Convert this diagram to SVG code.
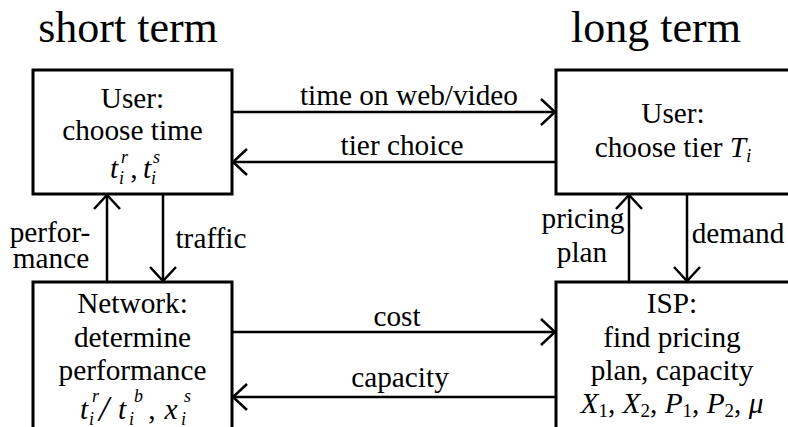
<svg xmlns="http://www.w3.org/2000/svg" width="788" height="427" viewBox="0 0 788 427" font-family="Liberation Serif, serif">
<style>
.box{fill:#fff;stroke:#000;stroke-width:3}
.c{stroke:#000;stroke-width:2.5;fill:none}
</style>
<defs>
<marker id="ah" viewBox="0 0 16 28" refX="15" refY="14" markerWidth="16" markerHeight="28" markerUnits="userSpaceOnUse" orient="auto">
<path d="M1,1 L15,14 L1,27" fill="none" stroke="#000" stroke-width="2.5"/>
</marker>
</defs>
<rect width="788" height="427" fill="#fff"/>
<text font-family="Liberation Serif, serif" font-size="44" text-anchor="middle" x="128" y="42">short term</text>
<text font-family="Liberation Serif, serif" font-size="44" text-anchor="middle" x="656" y="42">long term</text>
<g id="connectors" font-family="Liberation Serif, serif" font-size="29.3" text-anchor="middle">
<line class="c" x1="232" y1="112" x2="555" y2="112" marker-end="url(#ah)"/>
<line class="c" x1="556" y1="162" x2="233" y2="162" marker-end="url(#ah)"/>
<line class="c" x1="232" y1="332" x2="555" y2="332" marker-end="url(#ah)"/>
<line class="c" x1="556" y1="397" x2="233" y2="397" marker-end="url(#ah)"/>
<line class="c" x1="107" y1="282" x2="107" y2="195" marker-end="url(#ah)"/>
<line class="c" x1="163" y1="194" x2="163" y2="281" marker-end="url(#ah)"/>
<line class="c" x1="629" y1="282" x2="629" y2="195" marker-end="url(#ah)"/>
<line class="c" x1="687" y1="194" x2="687" y2="281" marker-end="url(#ah)"/>
<text x="409" y="105">time on web/video</text>
<text x="402" y="155">tier choice</text>
<text x="397" y="326">cost</text>
<text x="400" y="387">capacity</text>
<text x="50" y="242">perfor-</text>
<text x="51" y="268">mance</text>
<text x="211" y="248">traffic</text>
<text x="583" y="228">pricing</text>
<text x="582" y="262">plan</text>
<text x="738" y="243">demand</text>
</g>
<g id="user-short" font-family="Liberation Serif, serif" font-size="29.3">
<rect class="box" x="33" y="70" width="199" height="124"/>
<text text-anchor="middle" x="132.5" y="108">User:</text>
<text text-anchor="middle" x="132.5" y="140">choose time</text>
<text font-style="italic" text-anchor="middle" x="114" y="178">t</text>
<text font-style="italic" font-size="18" x="121" y="163">r</text>
<text font-style="italic" font-size="18" x="119" y="184">i</text>
<text text-anchor="middle" x="134" y="178">,</text>
<text font-style="italic" text-anchor="middle" x="147" y="178">t</text>
<text font-style="italic" font-size="18" x="153" y="163">s</text>
<text font-style="italic" font-size="18" x="151" y="184">i</text>
</g>
<g id="network" font-family="Liberation Serif, serif" font-size="29.3">
<rect class="box" x="33" y="282" width="199" height="160"/>
<text text-anchor="middle" x="132.5" y="313">Network:</text>
<text text-anchor="middle" x="132.5" y="347">determine</text>
<text text-anchor="middle" x="132.5" y="380">performance</text>
<text font-style="italic" text-anchor="middle" x="84" y="419">t</text>
<text font-style="italic" font-size="18" x="92" y="402">r</text>
<text font-style="italic" font-size="18" x="89" y="425">i</text>
<text font-style="italic" font-size="36" x="99" y="421">/</text>
<text font-style="italic" text-anchor="middle" x="122" y="419">t</text>
<text font-style="italic" font-size="18" x="134" y="402">b</text>
<text font-style="italic" font-size="18" x="129" y="425">i</text>
<text text-anchor="middle" x="152" y="419">,</text>
<text font-style="italic" text-anchor="middle" x="171" y="419">x</text>
<text font-style="italic" font-size="18" x="184" y="402">s</text>
<text font-style="italic" font-size="18" x="181" y="425">i</text>
</g>
<g id="user-long" font-family="Liberation Serif, serif" font-size="29.3">
<rect class="box" x="556" y="70" width="236" height="124"/>
<text text-anchor="middle" x="673" y="123">User:</text>
<text text-anchor="middle" x="673" y="157">choose tier <tspan font-style="italic">T</tspan><tspan font-style="italic" font-size="19" dy="5">i</tspan></text>
</g>
<g id="isp" font-family="Liberation Serif, serif" font-size="29.3">
<rect class="box" x="556" y="282" width="236" height="160"/>
<text text-anchor="middle" x="672" y="313">ISP:</text>
<text text-anchor="middle" x="672" y="347">find pricing</text>
<text text-anchor="middle" x="672" y="380">plan, capacity</text>
<text text-anchor="middle" x="672" y="413"><tspan font-style="italic">X</tspan><tspan font-size="19" dy="4">1</tspan><tspan dy="-4">, </tspan><tspan font-style="italic">X</tspan><tspan font-size="19" dy="4">2</tspan><tspan dy="-4">, </tspan><tspan font-style="italic">P</tspan><tspan font-size="19" dy="4">1</tspan><tspan dy="-4">, </tspan><tspan font-style="italic">P</tspan><tspan font-size="19" dy="4">2</tspan><tspan dy="-4">, </tspan><tspan font-style="italic">μ</tspan></text>
</g>
</svg>
